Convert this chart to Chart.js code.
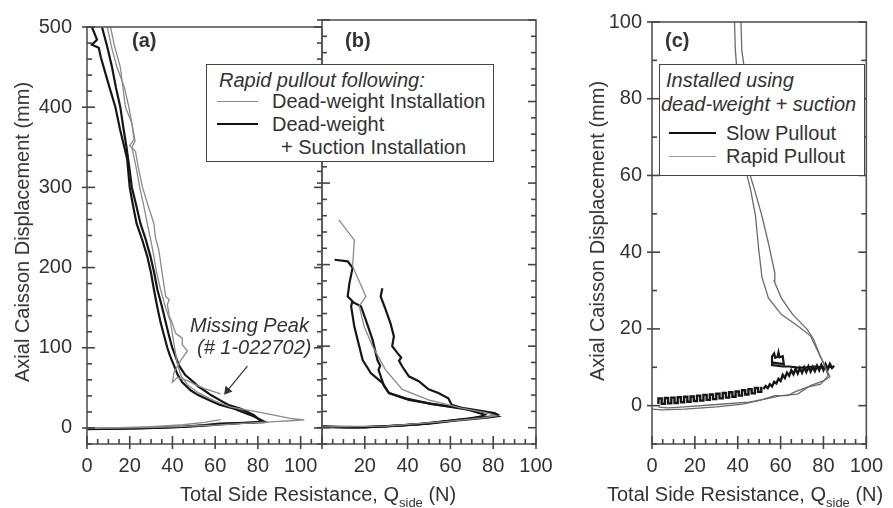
<!DOCTYPE html>
<html>
<head>
<meta charset="utf-8">
<script src="https://cdn.jsdelivr.net/npm/chart.js@4.4.1/dist/chart.umd.min.js"></script>
<style>
html,body{margin:0;padding:0;background:#fff;}
#wrap{position:relative;width:893px;height:508px;overflow:hidden;font-family:"Liberation Sans",Arial,Helvetica,sans-serif;color:#333;}
#wrap canvas{position:absolute;left:0;top:0;}
.t{position:absolute;white-space:nowrap;font-size:20px;line-height:24px;z-index:6;}
.i{font-style:italic;}
.b{font-weight:bold;}
.yt{position:absolute;white-space:nowrap;font-size:20px;line-height:24px;z-index:6;transform:translate(-50%,-50%) rotate(-90deg);}
.box{position:absolute;box-sizing:border-box;border:1.5px solid #444;background:#fff;z-index:5;}
.ln{position:absolute;height:0;z-index:7;}
sub{font-size:13px;vertical-align:baseline;position:relative;top:6px;}
</style>
</head>
<body>
<div id="wrap">
<canvas id="ca" width="893" height="508"></canvas>
<canvas id="cb" width="893" height="508"></canvas>
<canvas id="cc" width="893" height="508"></canvas>

<div class="yt" style="left:22px;top:232px;">Axial Caisson Displacement (mm)</div>
<div class="yt" style="left:597px;top:231px;">Axial Caisson Displacement (mm)</div>

<div class="t b" style="left:132px;top:28px;">(a)</div>
<div class="t b" style="left:345px;top:28px;">(b)</div>
<div class="t b" style="left:665px;top:28px;">(c)</div>

<div class="box" style="left:206px;top:64px;width:288px;height:98px;"></div>
<div class="t i" style="left:219px;top:68px;">Rapid pullout following:</div>
<div class="ln" style="left:217px;top:101px;width:41px;border-top:1.3px solid #888;"></div>
<div class="t" style="left:272px;top:89px;">Dead-weight Installation</div>
<div class="ln" style="left:217px;top:123px;width:41px;border-top:2.2px solid #111;"></div>
<div class="t" style="left:272px;top:112px;">Dead-weight</div>
<div class="t" style="left:281px;top:135px;">+ Suction Installation</div>

<div class="t i" style="left:190px;top:313px;">Missing Peak</div>
<div class="t i" style="left:197px;top:335px;">(# 1-022702)</div>

<div class="box" style="left:659px;top:64px;width:206px;height:112px;"></div>
<div class="t i" style="left:666px;top:68px;">Installed using</div>
<div class="t i" style="left:661px;top:92px;">dead-weight + suction</div>
<div class="ln" style="left:669px;top:132px;width:47px;border-top:2px solid #111;"></div>
<div class="t" style="left:726px;top:121px;">Slow Pullout</div>
<div class="ln" style="left:669px;top:156px;width:47px;border-top:1.3px solid #999;"></div>
<div class="t" style="left:726px;top:144px;">Rapid Pullout</div>

<div class="t" style="left:180px;top:482px;">Total Side Resistance, Q<sub>side</sub> (N)</div>
<div class="t" style="left:607px;top:482px;">Total Side Resistance, Q<sub>side</sub> (N)</div>
</div>

<script>
// ---------- tick labels ----------
const xTicksA = [0, 20, 40, 60, 80, 100];
const xTicksB = [20, 40, 60, 80, 100];
const xTicksC = [0, 20, 40, 60, 80, 100];
const yTicksAB = [0, 100, 200, 300, 400, 500];
const yTicksC = [0, 20, 40, 60, 80, 100];

// ---------- panel (a) ----------
// dead-weight + suction installation (black)
const a1x = [0,8,16,24,31,40,47,55,62,68,74,83,76.7,68.9,62,57,52,48.5,44.6,42.5,40.7,39,37.6,36,34.4,32.8,31.3,30,28.2,25.8,23.2,21.5,20,18.8,17.5,15.5,13.3,10.5,7.8,6.5,5.5,2.3,4.7,2.3];
const a1y = [-1.5,-1.3,-1,-0.5,0,0.8,1.6,3,4.5,5.5,6.5,8,16,24,29,35,41,47,57,66,78,89,100,116,132,152,173,193,214,235,255,278,300,335,350,372,400,425,450,462,474,478,484,500];
const a2x = [0,15,30,45,55,62,70,76,82,78.2,72,66,62,58,54.8,52,50,46,43,41.5,39.9,38.3,36.8,35,32.9,31.5,29.7,27.5,25,23,21,19.8,18.5,17,15.6,13.5,11.7,9.5,7];
const a2y = [-1,-0.8,0.2,1.5,3.5,5.5,6,6.5,7,16,24,29,35,41,47,52,57,66,78,89,100,116,132,152,173,193,214,235,255,278,300,325,350,375,400,425,450,475,500];
// dead-weight installation (gray)
const g1x = [0,20,40,60,75,88,95,101.7,95,87.6,78,67.3,59.5,52,47,44,42.3,41,39.1,36.8,34.4,32.5,31.3,29.8,28.2,26.5,24.7,23,21,22.5,19.6,17.5,14,11.5,9.5];
const g1y = [-0.5,0,1.5,3.5,6,8,9,10,12,16,21,26,34,44,54,65,80,100,132,150,173,195,214,235,255,278,300,325,350,358,400,425,450,475,500];
const g2ax = [0,15,30,45,55,62.6];
const g2ay = [0,0.5,1.5,4,7,10.5];
const g2bx = [62.6,55,50,47,42.3,40,40.7,43.8,47,44.6,44.6,41.5,39.9,38.5,37.6,38.5,36.8,35.2,33.6,32,31.3,28.5,26,24,22.7,20,22,21,18,15.6,13,11];
const g2by = [42.5,49,55,59,63,57,69,84,96,104,112,118,131,140,154,160,164,193,222,238,255,278,300,325,345,352,360,380,400,450,475,500];
// annotation arrow
const arrowX = [75.1, 65.7];
const arrowY = [77, 46.6];

// ---------- panel (b) ----------
const b1x = [0,10,20,30,40,50,60,68,74,76,68.3,54.4,40.6,31.3,28.2,22.8,19,17.4,15.1,13.6,14.3,12,12.8,14.3,12,5.9];
const b1y = [1.5,0.5,0.5,1.8,3.5,5.5,8.5,11,13.5,16,22,28,34,42.5,55,67,83,100,124,149,155,161,177,196,204,206];
const b2x = [0,15,30,45,58,66,74,80,82,80.6,68.3,51.3,39,31.3,29,26.4,27.2,25.9,23.6,20.5,18.2,13.6];
const b2y = [0.8,0.3,1.5,4,8,10.5,12.5,14,16,18,23,29,36,42.5,51,71,76,83,108,132,149,155];
const b3x = [0,20,35,50,62,72,78,82.2,79,68.3,60.6,59,54.4,49.8,45.2,40.6,37.5,36,37,35.1,32.8,33.6,32,29.7,27.4,28.2];
const b3y = [1.2,0.8,2.5,5,8.5,11,12.5,14,18,22,28,36,42.5,47,57,63,75,82,86,92,100,112,128,145,161,171];
const bgx = [0,30,60,75,81.4,77.5,65.2,49.8,37.5,29.7,23.6,19.7,17.4,20.5,14.3,15.1,7.9];
const bgy = [1,2,8,12,14.7,18,24,34,47,71,100,124,149,161,198,230,255];

// ---------- panel (c) ----------
// rapid pullout (gray)
const r1x = [0,4.5,15.1,30.2,42.2,49.8,57.3,63.3,66.4,72.4,78.7,82.2,79.9,77.7,73.9,67.9,60.3,54.3,51.3,49.8,48.3,46,44.5,42,39.5,38.9,38.5];
const r1y = [-0.9,-1.1,-0.9,-0.3,0.4,1.3,2.6,2.6,3.5,4.8,5.6,7.8,11.3,13.8,18.2,20.8,23.8,28.1,33.5,40.7,49.4,56.3,59.7,75,88.3,92.6,100];
const r2x = [3,7.5,15.1,30.2,45.2,52.8,60.3,67.9,73.9,80.2,83,79.9,78.4,75.4,72.4,65.6,60.3,57,57.3,54.3,51.3,48.3,46,44,43,41.9,41.5];
const r2y = [-0.4,-0.6,-0.3,0.3,0.9,1.7,2.6,3,5.2,6.5,7.5,11.3,13,17.3,19.9,23.8,28.1,32.5,34.6,42.4,49.4,55.4,59.7,75,88.3,92.6,100];
// slow pullout (black, stepped noisy record)
const s1x = [3,3,4.5,4.5,6,6,7.5,7.5,9,9,10.5,10.5,12,12,13.5,13.5,15,15,16.5,16.5,18,18,19.5,19.5,21,21,22.5,22.5,24,24,25.5,25.5,27,27,28.5,28.5,30,30,31.5,31.5,33,33,34.5,34.5,36,36,37.5,37.5,39,39,40.5,40.5,42,42,43.5,43.5,45,45,46.5,46.5,48,48,49.5,49.5,51,51];
const s1y = [0.4,1.9,1.9,0.5,0.5,2.0,2.0,0.6,0.6,2.1,2.1,0.7,0.7,2.2,2.2,0.9,0.9,2.3,2.3,1.0,1.0,2.4,2.4,1.2,1.2,2.6,2.6,1.3,1.3,2.8,2.8,1.5,1.5,2.9,2.9,1.7,1.7,3.1,3.1,1.9,1.9,3.3,3.3,2.1,2.1,3.5,3.5,2.3,2.3,3.7,3.7,2.6,2.6,4.0,4.0,2.9,2.9,4.3,4.3,3.2,3.2,4.6,4.6,3.6,3.6,4.9];
const s2x = [52,53,54,55,56,57,58,59,60,61,62,63,64,65,66,67,68,69,70,71,72,73,74,75,76,77,78,79,80,81,82,83,84,85];
const s2y = [4.3,5.1,4.6,5.6,5.0,6.2,5.8,7.0,6.4,8.0,7.2,8.6,7.8,9.2,8.2,9.6,8.4,9.8,8.6,10.0,8.8,10.2,8.9,10.1,9.0,10.4,9.2,10.6,9.3,10.8,9.5,10.9,9.8,10.4];
const s3x = [84,80,76,72,68,64,61,56,56,57,57.5,58.5,59,59.5,61,61.5,56.5];
const s3y = [10.1,9.9,10.2,10.0,9.9,10.2,10.2,10.6,12.8,13.6,12.5,12.7,13.9,12.6,12.9,10.8,11.2];

// ---------- helpers ----------
Chart.defaults.font.family = "'Liberation Sans', Arial, sans-serif";
Chart.defaults.font.size = 20;
Chart.defaults.color = '#333';

function pts(xs, ys) { return xs.map((x, i) => ({x: x, y: ys[i]})); }
function line(xs, ys, color, width) {
  return {data: pts(xs, ys), borderColor: color, backgroundColor: color, borderWidth: width,
          showLine: true, pointRadius: 0, fill: false, tension: 0};
}
const BLACK = '#161616', GRAY = '#8a8a8a', GRAYC = '#6a6a6a';

function seg(ctx, x1, y1, x2, y2) {
  ctx.beginPath();
  ctx.moveTo(x1, y1);
  ctx.lineTo(x2, y2);
  ctx.stroke();
}

function makeFrame(o) {
  return {
    id: 'frameTicks',
    afterDraw(chart) {
      const ctx = chart.ctx, ca = chart.chartArea;
      const xs = chart.scales.x, ys = chart.scales.y;
      ctx.save();
      ctx.strokeStyle = '#555';
      ctx.lineWidth = 1.6;
      ctx.strokeRect(ca.left, ca.top, ca.right - ca.left, ca.bottom - ca.top);
      ctx.lineWidth = 1.6;
      ctx.strokeStyle = '#444';
      const nx = Math.round((o.xmax - o.xmin) / o.xminor);
      for (let i = 0; i <= nx; i++) {
        const v = o.xmin + i * o.xminor;
        const p = xs.getPixelForValue(v);
        const maj = Math.abs(v / o.xmajor - Math.round(v / o.xmajor)) < 1e-6;
        seg(ctx, p, ca.bottom + (maj ? 5 : 0), p, ca.bottom - (maj ? 8 : 5));
      }
      const ny = Math.round((o.ymax - o.ymin) / o.yminor);
      for (let i = 0; i <= ny; i++) {
        const v = o.ymin + i * o.yminor;
        const p = ys.getPixelForValue(v);
        const maj = Math.abs(v / o.ymajor - Math.round(v / o.ymajor)) < 1e-6;
        seg(ctx, ca.left - (maj ? 5 : 0), p, ca.left + (maj ? 8 : 5), p);
        seg(ctx, ca.right, p, ca.right - (maj ? 8 : 5), p);
      }
      ctx.restore();
    }
  };
}

function makeChart(id, datasets, c) {
  const yScale = {
    type: 'linear', min: c.ymin, max: c.ymax,
    grid: {display: false, drawTicks: false}, border: {display: false},
    afterBuildTicks: s => { s.ticks = c.yticks.map(v => ({value: v})); }
  };
  if (c.yshow) {
    yScale.afterFit = s => { s.width = c.yw; };
    yScale.ticks = {padding: c.ypad, color: '#333'};
  } else {
    yScale.display = false;
  }
  return new Chart(document.getElementById(id), {
    type: 'scatter',
    data: {datasets: datasets},
    options: {
      responsive: false, animation: false, events: [],
      layout: {padding: c.pad, autoPadding: false},
      plugins: {legend: {display: false}, tooltip: {enabled: false}},
      scales: {
        x: {
          type: 'linear', min: c.xmin, max: c.xmax,
          grid: {display: false, drawTicks: false}, border: {display: false},
          afterBuildTicks: s => { s.ticks = c.xticks.map(v => ({value: v})); },
          afterFit: s => { s.height = 64; },
          ticks: {padding: 10, maxRotation: 0, autoSkip: false, color: '#333'}
        },
        y: yScale
      }
    },
    plugins: [makeFrame({xmin: c.xmin, xmax: c.xmax, xmajor: 20, xminor: 5,
                         ymin: c.ymin, ymax: c.ymax, ymajor: c.ymajor, yminor: c.yminor})]
  });
}

// arrow head as a rotated triangle point
const arrowDs = line(arrowX, arrowY, '#333', 1.2);
arrowDs.pointRadius = [0, 4];
arrowDs.pointStyle = 'triangle';
arrowDs.pointRotation = 219;

makeChart('ca', [
  line(g1x, g1y, GRAY, 1.3),
  line(g2ax, g2ay, GRAY, 1.3),
  line(g2bx, g2by, GRAY, 1.3),
  line(a1x, a1y, BLACK, 2.2),
  line(a2x, a2y, BLACK, 2.2),
  arrowDs
], {xmin: 0, xmax: 110, ymin: -20, ymax: 500, xticks: xTicksA, yticks: yTicksAB,
    ymajor: 100, yminor: 20, yshow: true, yw: 87, ypad: 15,
    pad: {left: 0, right: 571, top: 20, bottom: 0}});

makeChart('cb', [
  line(bgx, bgy, GRAY, 1.3),
  line(b1x, b1y, BLACK, 2.2),
  line(b2x, b2y, BLACK, 2.2),
  line(b3x, b3y, BLACK, 2.2)
], {xmin: 0, xmax: 100, ymin: -20, ymax: 500, xticks: xTicksB, yticks: yTicksAB,
    ymajor: 100, yminor: 20, yshow: false,
    pad: {left: 322, right: 357, top: 20, bottom: 0}});

makeChart('cc', [
  line(r1x, r1y, GRAYC, 1.3),
  line(r2x, r2y, GRAYC, 1.3),
  line(s1x, s1y, BLACK, 2.4),
  line(s2x, s2y, BLACK, 2.4),
  line(s3x, s3y, BLACK, 2.2)
], {xmin: 0, xmax: 100, ymin: -10, ymax: 100, xticks: xTicksC, yticks: yTicksC,
    ymajor: 20, yminor: 10, yshow: true, yw: 72, ypad: 10,
    pad: {left: 580, right: 20, top: 20, bottom: 0}});
</script>
</body>
</html>
